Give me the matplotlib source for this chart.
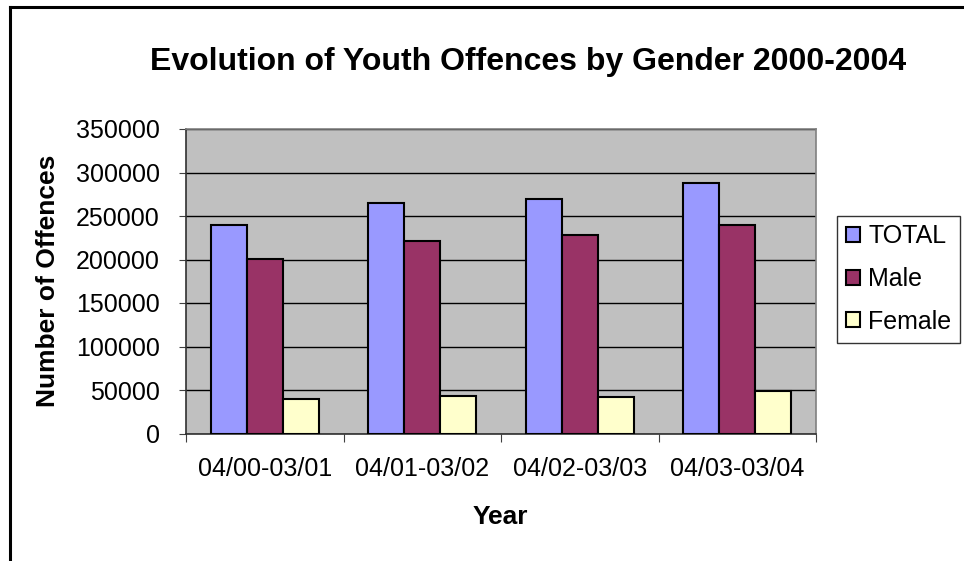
import matplotlib
matplotlib.use("Agg")
import matplotlib.pyplot as plt
import numpy as np
from matplotlib.lines import Line2D

categories = ["04/00-03/01", "04/01-03/02", "04/02-03/03", "04/03-03/04"]
total = [239500, 265000, 269500, 288000]
male = [200500, 221000, 228000, 239500]
female = [39500, 43500, 42000, 48500]
series_names = ["TOTAL", "Male", "Female"]
colors = ["#9999FF", "#993366", "#FFFFCC"]

plt.rcParams['font.family'] = ['Liberation Sans', 'DejaVu Sans']

W, H = 964, 561
fig = plt.figure(figsize=(W / 100, H / 100), dpi=100)
fig.patch.set_facecolor("white")

# outer chart border (left and top visible)
fig.add_artist(Line2D([9.5 / W, 9.5 / W], [0, 1 - 7 / H], transform=fig.transFigure, color="black", lw=2.2))
fig.add_artist(Line2D([9.5 / W, 1], [1 - 7 / H, 1 - 7 / H], transform=fig.transFigure, color="black", lw=2.2))

left, right, top, bottom = 186, 816, 129, 433.5
ax = fig.add_axes([left / W, 1 - bottom / H, (right - left) / W, (bottom - top) / H])
ax.set_facecolor("#C0C0C0")

x = np.arange(len(categories))
bw = 36 / 157.5
data = [total, male, female]
for i, (vals, c, name) in enumerate(zip(data, colors, series_names)):
    ax.bar(x + (i - 1) * bw, vals, width=bw, color=c, edgecolor="black", linewidth=1.5, label=name, zorder=3)

ax.set_xlim(-0.5, len(categories) - 0.5)
ax.set_ylim(0, 350000)
ax.set_yticks(np.arange(0, 350001, 50000))
ax.yaxis.grid(True, color="black", linewidth=1.0, zorder=1)
ax.set_axisbelow(True)

ax.set_xticks(np.arange(-0.5, len(categories), 1.0))
ax.set_xticklabels([])
ax.set_xticks(x, minor=True)
ax.set_xticklabels(categories, minor=True)
ax.tick_params(axis="x", which="major", length=6, direction="out", color="#404040")
ax.tick_params(axis="x", which="minor", length=0, pad=17, labelsize=18)
ax.tick_params(axis="y", length=5, direction="out", pad=14, labelsize=18, color="#404040")

for s in ["top", "right"]:
    ax.spines[s].set_color("#808080")
    ax.spines[s].set_linewidth(1.2)
for s in ["left", "bottom"]:
    ax.spines[s].set_color("#303030")
    ax.spines[s].set_linewidth(1.2)

fig.text(528 / W, 1 - 62 / H, "Evolution of Youth Offences by Gender 2000-2004",
         ha="center", va="center", fontsize=23, fontweight="bold")
fig.text(48 / W, 1 - 281 / H, "Number of Offences", ha="center", va="center",
         rotation=90, fontsize=19, fontweight="bold")
fig.text(500 / W, 1 - 517 / H, "Year", ha="center", va="center",
         fontsize=19, fontweight="bold")

leg = ax.legend(loc="center left", bbox_to_anchor=((837 - left) / (right - left), (bottom - 279) / (bottom - top)),
                frameon=True, fancybox=False, edgecolor="black", fontsize=18,
                handlelength=0.55, handleheight=0.55, handletextpad=0.35,
                labelspacing=0.75, borderpad=0.35, borderaxespad=0)
leg.get_frame().set_linewidth(1.0)

fig.savefig("out.png", dpi=100)
